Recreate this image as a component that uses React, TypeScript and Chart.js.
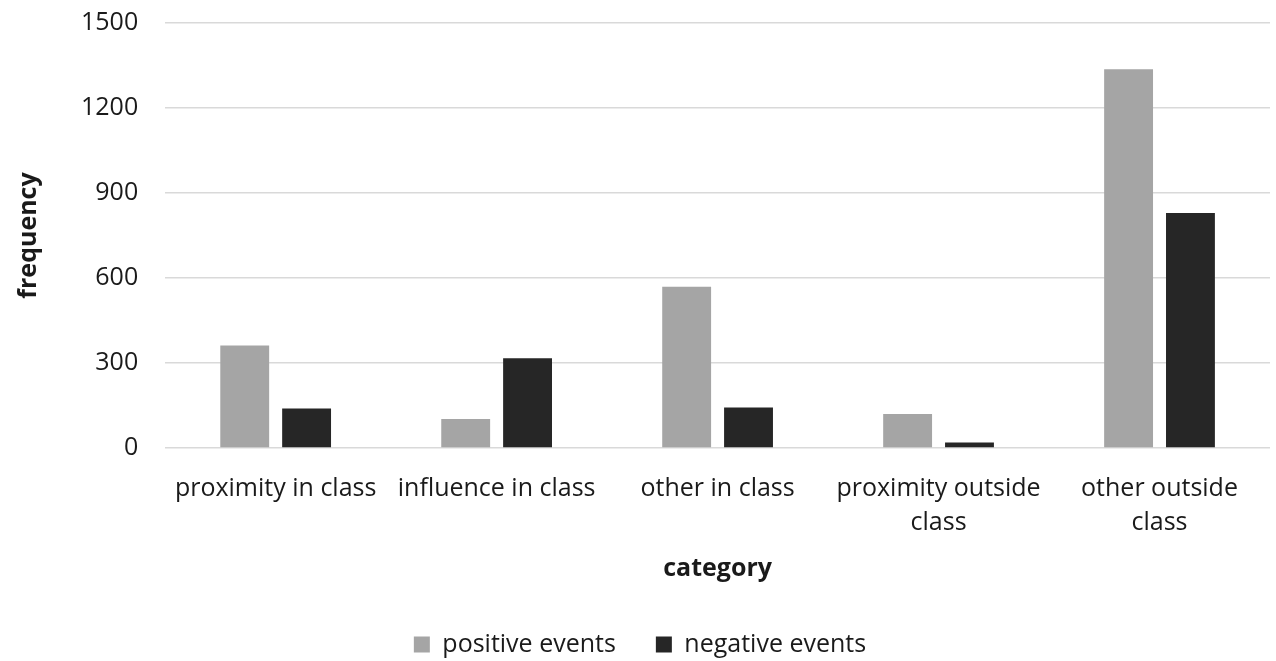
import React, { useEffect, useRef } from "react";
import { Chart, registerables } from "chart.js";

Chart.register(...registerables);

const categories: (string | string[])[] = [
  "proximity in class",
  "influence in class",
  "other in class",
  ["proximity outside", "class"],
  ["other outside", "class"],
];
const positiveEvents = [362, 102, 569, 120, 1337];
const negativeEvents = [139, 317, 143, 19, 829];
const yTicks = [0, 300, 600, 900, 1200, 1500];

const FONT = "'Open Sans', sans-serif";
const TEXT = "#1a1a1a";
const SIZE = 25;

export default function App() {
  const ref = useRef<HTMLCanvasElement | null>(null);
  useEffect(() => {
    document.body.style.margin = "0";
    if (!ref.current) return;
    const chart = new Chart(ref.current, {
      type: "bar",
      data: {
        labels: categories,
        datasets: [
          {
            label: "positive events",
            data: positiveEvents,
            backgroundColor: "#A5A5A5",
            barPercentage: 0.79,
            categoryPercentage: 0.56,
          },
          {
            label: "negative events",
            data: negativeEvents,
            backgroundColor: "#262626",
            barPercentage: 0.79,
            categoryPercentage: 0.56,
          },
        ],
      },
      options: {
        animation: false,
        responsive: false,
        maintainAspectRatio: false,
        layout: { padding: { top: 23, right: 6, left: 10, bottom: -6 } },
        plugins: {
          legend: {
            position: "bottom",
            labels: {
              boxWidth: 16,
              boxHeight: 16,
              padding: 40,
              color: TEXT,
              font: { family: FONT, size: SIZE },
            },
          },
          tooltip: { enabled: false },
        },
        scales: {
          x: {
            grid: { display: false },
            border: { display: false },
            ticks: {
              color: TEXT,
              font: { family: FONT, size: SIZE, lineHeight: 1.36 },
              maxRotation: 0,
              autoSkip: false,
              padding: 16,
            },
            title: {
              display: true,
              text: "category",
              color: TEXT,
              font: { family: FONT, size: SIZE, weight: "bold", lineHeight: 1.0 },
              padding: { top: 0, bottom: 11 },
            },
          },
          y: {
            min: 0,
            max: 1500,
            afterBuildTicks: (axis: any) => {
              axis.ticks = yTicks.map((v) => ({ value: v }));
            },
            afterFit: (axis: any) => {
              axis.paddingTop = 0;
            },
            grid: { color: "#D9D9D9", lineWidth: 1.5, drawTicks: false },
            border: { display: false },
            ticks: {
              color: TEXT,
              font: { family: FONT, size: SIZE },
              padding: 27,
              callback: (v: any) => String(v),
            },
            title: {
              display: true,
              text: "frequency",
              color: TEXT,
              font: { family: FONT, size: SIZE, weight: "bold" },
              padding: { bottom: 10 },
            },
          },
        },
      },
    });
    return () => chart.destroy();
  }, []);
  return (
    <div style={{ width: 1276, height: 661, background: "#fff" }}>
      <canvas ref={ref} width={1276} height={661} style={{ width: 1276, height: 661 }} />
    </div>
  );
}
